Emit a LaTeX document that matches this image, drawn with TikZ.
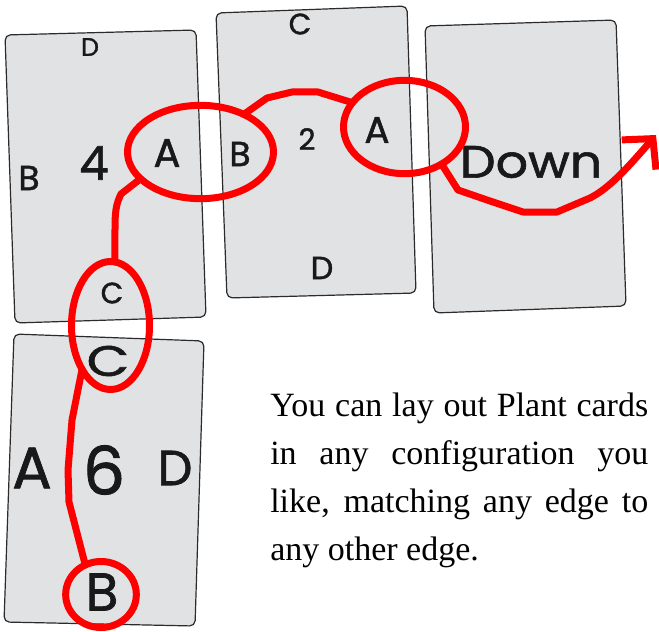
\documentclass[tikz,border=0pt]{standalone}
\usepackage{fontspec}
\usepackage{graphicx}
\setmainfont{Liberation Serif}
\newfontfamily\handfont[FakeBold=1.3]{Poppins}
\usetikzlibrary{arrows.meta,shapes.geometric}
\definecolor{cardgray}{HTML}{E1E2E4}
\definecolor{cardedge}{HTML}{2B2B2B}
\definecolor{markred}{HTML}{FF0000}
\begin{document}
\begin{tikzpicture}[x=0.75pt,y=-0.75pt,
  card/.style={draw=cardedge, fill=cardgray, line width=0.9pt, rounded corners=4pt},
  ring/.style={draw=markred, line width=5.25pt, ellipse, inner sep=0pt, outer sep=0pt},
  trail/.style={draw=markred, line width=5.25pt, line join=round, line cap=round},
  hand/.style={font=\handfont\fontsize{#1}{#1}\selectfont, inner sep=0pt, text={black!90}},
  para/.style={font=\fontsize{25.5}{36}\selectfont, inner sep=0pt, align=left, anchor=base west}
]
\useasboundingbox (0,0) rectangle (659,631);

% cards
\draw[card] (5,35) -- (196,30) -- (206,317) -- (15,323) -- cycle;
\draw[card] (216,13) -- (407,6) -- (416,293) -- (227,298) -- cycle;
\draw[card] (425,26) -- (616,20) -- (626,306) -- (434,313) -- cycle;
\draw[card] (14,334) -- (204,341) -- (195,626) -- (4,622) -- cycle;

% card 1 letters
\node[hand=19] (c1d) at (90,47) {D};
\node[hand=26] (c1b) at (29,178) {B};
\node[hand=35] (c1n) at (94,163) {4};
\node[hand=30] (c1a) at (167,153) {A};
\node[hand=22] (c1c) at (112,293) {C};
% card 2 letters
\node[hand=22] (c2c) at (300,24) {C};
\node[hand=26] (c2b) at (240,154) {B};
\node[hand=22] (c2n) at (307,139) {2};
\node[hand=28] (c2a) at (377,130) {A};
\node[hand=24] (c2d) at (322,268) {D};
% card 3
\node[hand=34] (c3w) at (531,162) {\scalebox{1.12}[1]{Down}};
% card 4 letters
\node[hand=32] (c4c) at (108,361) {\scalebox{1.3}[1]{C}};
\node[hand=44] (c4a) at (32,468) {A};
\node[hand=50] (c4n) at (104,470) {6};
\node[hand=37] (c4d) at (175,468) {D};
\node[hand=40] (c4b) at (102,592) {B};

% rings
\node[ring, minimum width=109.5pt, minimum height=70pt] (e1) at (200.5,152) {};
\node[ring, minimum width=91.5pt, minimum height=70pt] (e2) at (404.5,127) {};
\node[ring, minimum width=58.5pt, minimum height=96pt] (e3) at (110.5,325.5) {};
\node[ring, minimum width=53pt, minimum height=49.5pt] (e4) at (101,594.5) {};

% trails
\draw[trail] (e1.204) -- (121,194) .. controls (116,204) and (115,212) .. (115,228) -- (e3.86);
\draw[trail] (e1.41) -- (267,98) -- (292,92) -- (318,92) -- (e2.155);
\coordinate (tip) at (656,135);
\draw[trail, -{Straight Barb[length=16pt,width=34pt]}] (e2.-45) -- (458,190) -- (490,201) -- (523,212) -- (557,212) -- (590,198) .. controls (610,188) and (630,165) .. (tip);
\draw[trail] (e3.-123) -- (72,420) -- (68,470) -- (69,502) -- (e4.118);

% text
\node[para] (txt) at (270,560) {\makebox[283.5pt][s]{You can lay out Plant cards}\\
\makebox[283.5pt][s]{in any configuration you}\\
\makebox[283.5pt][s]{like, matching any edge to}\\
any other edge.};
\end{tikzpicture}
\end{document}
